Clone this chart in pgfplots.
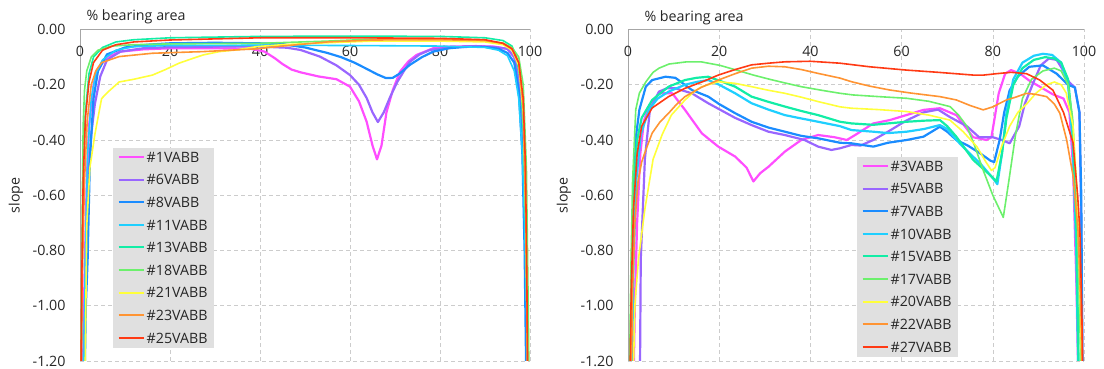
\documentclass[border=0pt]{standalone}
\usepackage{fontspec}
\setmainfont{Open Sans}
\usepackage{pgfplots}
\pgfplotsset{compat=1.18}
\definecolor{cMag}{HTML}{FF4DFF}
\definecolor{cPur}{HTML}{9966FF}
\definecolor{cBlu}{HTML}{1A8CFF}
\definecolor{cCya}{HTML}{1FCFFF}
\definecolor{cSpr}{HTML}{12EDA6}
\definecolor{cLgr}{HTML}{6CF06C}
\definecolor{cYel}{HTML}{FFFF3A}
\definecolor{cOra}{HTML}{FF9433}
\definecolor{cRed}{HTML}{FF3A14}
\pgfplotsset{
  myax/.style={
    scale only axis, height=331.5bp,
    xmin=0, xmax=100, ymin=-1.2, ymax=0,
    axis x line*=top, axis y line*=left,
    axis line style={draw=black!35, -},
    xtick={0,20,40,60,80,100},
    ytick={-1.2,-1,-0.8,-0.6,-0.4,-0.2,0},
    yticklabels={-1.20,-1.00,-0.80,-0.60,-0.40,-0.20,0.00},
    xticklabels={0,20,40,60,80,100},
    major tick length=0pt,
    grid=major, grid style={black!20, dash pattern=on 4bp off 3bp, line width=0.6bp},
    xticklabel style={anchor=center, yshift=-22bp},
    yticklabel style={anchor=east, xshift=-11bp},
    tick label style={font=\fontsize{14.3}{16}\selectfont, text=black!85},
    clip mode=individual,
    every axis plot/.append style={line width=1.6bp, line join=round, no markers},
    legend cell align=left,
    legend image code/.code={\draw[##1, line width=2bp, line cap=butt] (0bp,0.5bp) -- (25bp,0.5bp);},
    legend style={font=\fontsize{14.3}{16}\selectfont, text=black!85, fill=gray!24, draw=none,
      anchor=north west, inner xsep=4.5bp, inner ysep=3.5bp, row sep=11.1bp,
      nodes={inner ysep=0bp, inner xsep=2bp, text height=10.5bp, text depth=1bp}},
  }
}
\begin{document}
\begin{tikzpicture}
\path[use as bounding box] (0,0) rectangle (1104bp,369bp);
% ---------------- LEFT ----------------
\begin{axis}[myax, width=450bp, at={(80bp,8bp)}, anchor=south west,
  legend style={at={(0.0733,0.6425)}}]
\addplot[cMag, line width=2.2bp] coordinates {(0.6,-1.3)(1,-0.9)(1.5,-0.55)(2,-0.35)(3,-0.2)(4,-0.14)(6,-0.1)(9,-0.08)(14,-0.072)(20,-0.068)(30,-0.068)(38,-0.07)(41,-0.08)(43.3,-0.104)(45,-0.125)(47,-0.145)(49,-0.155)(53,-0.17)(57,-0.18)(60,-0.207)(62,-0.26)(63.7,-0.334)(65,-0.42)(66,-0.47)(67,-0.42)(68.1,-0.3)(69.5,-0.22)(71.1,-0.153)(73,-0.115)(74.8,-0.092)(78.5,-0.068)(82,-0.062)(88,-0.06)(92,-0.062)(95,-0.07)(96.5,-0.1)(97.7,-0.2)(98.5,-0.4)(99,-0.75)(99.4,-1.3)};
\addlegendentry{\#1VABB}
\addplot[cPur, line width=2.2bp] coordinates {(0.7,-1.3)(1.2,-0.9)(1.8,-0.55)(2.5,-0.38)(3.3,-0.27)(4.5,-0.17)(6,-0.11)(9,-0.08)(14,-0.068)(20,-0.064)(30,-0.062)(40,-0.062)(46,-0.066)(49,-0.074)(53.3,-0.098)(57,-0.13)(60,-0.165)(62,-0.2)(63.7,-0.248)(65,-0.3)(66.2,-0.335)(67.5,-0.3)(68.9,-0.245)(70.5,-0.19)(72,-0.15)(73.3,-0.117)(75.5,-0.09)(77.8,-0.074)(82,-0.065)(88,-0.062)(92,-0.063)(95,-0.07)(96.5,-0.1)(97.5,-0.18)(98.5,-0.4)(99,-0.7)(99.4,-1.3)};
\addlegendentry{\#6VABB}
\addplot[cBlu, line width=2.2bp] coordinates {(1.0,-1.3)(1.3,-1.0)(1.7,-0.83)(2.2,-0.47)(3,-0.25)(4,-0.15)(6,-0.09)(10,-0.065)(15,-0.055)(20,-0.05)(30,-0.048)(40,-0.05)(45,-0.053)(50,-0.065)(55,-0.085)(58,-0.1)(61,-0.12)(64,-0.145)(66,-0.162)(68,-0.176)(69.5,-0.175)(71,-0.16)(73.3,-0.128)(76,-0.1)(78.5,-0.08)(82,-0.068)(86,-0.062)(90,-0.063)(93,-0.07)(95,-0.085)(96.5,-0.12)(97.5,-0.22)(98.3,-0.45)(98.8,-0.8)(99.2,-1.3)};
\addlegendentry{\#8VABB}
\addplot[cCya] coordinates {(0.8,-1.3)(1.2,-0.8)(1.7,-0.45)(2.5,-0.25)(3.5,-0.16)(5,-0.11)(8,-0.075)(12,-0.062)(20,-0.058)(40,-0.057)(60,-0.058)(80,-0.06)(90,-0.065)(93,-0.075)(95,-0.095)(96.5,-0.15)(97.5,-0.25)(98.3,-0.45)(98.8,-0.7)(99.2,-1.0)(99.5,-1.3)};
\addlegendentry{\#11VABB}
\addplot[cSpr] coordinates {(0.3,-1.3)(0.5,-0.85)(0.8,-0.5)(1.2,-0.3)(2,-0.16)(3,-0.1)(5,-0.065)(8,-0.045)(12,-0.037)(20,-0.03)(40,-0.025)(60,-0.024)(80,-0.025)(90,-0.03)(94,-0.04)(96,-0.06)(97,-0.1)(98,-0.2)(98.6,-0.4)(99,-0.7)(99.3,-1.0)(99.6,-1.3)};
\addlegendentry{\#13VABB}
\addplot[cLgr] coordinates {(0.2,-1.3)(0.4,-0.8)(0.7,-0.35)(1,-0.22)(1.5,-0.15)(2.5,-0.1)(4,-0.075)(7,-0.06)(12,-0.055)(20,-0.052)(40,-0.05)(55,-0.042)(65,-0.035)(80,-0.035)(90,-0.04)(94,-0.05)(96,-0.065)(97.5,-0.1)(98.5,-0.2)(99.2,-0.5)(99.6,-1.0)(99.8,-1.3)};
\addlegendentry{\#18VABB}
\addplot[cYel] coordinates {(1.1,-1.3)(1.5,-0.71)(2.2,-0.5)(3.3,-0.38)(4.8,-0.25)(6.3,-0.225)(8.7,-0.19)(12,-0.18)(16.1,-0.165)(19,-0.145)(22,-0.122)(25,-0.105)(27.4,-0.092)(31,-0.08)(34.8,-0.074)(39.3,-0.062)(45,-0.055)(55,-0.048)(65,-0.042)(80,-0.042)(90,-0.045)(94,-0.055)(96,-0.075)(97.5,-0.13)(98.5,-0.3)(99.1,-0.7)(99.5,-1.3)};
\addlegendentry{\#21VABB}
\addplot[cOra] coordinates {(0.2,-1.3)(0.5,-0.9)(1,-0.55)(1.6,-0.33)(2.5,-0.2)(3.5,-0.15)(4.8,-0.12)(8.7,-0.098)(16.1,-0.086)(27.4,-0.08)(39.3,-0.07)(45,-0.06)(55,-0.045)(65,-0.038)(80,-0.037)(90,-0.04)(94,-0.05)(96,-0.07)(97.5,-0.12)(98.5,-0.28)(99.1,-0.7)(99.5,-1.3)};
\addlegendentry{\#23VABB}
\addplot[cRed] coordinates {(0.2,-1.3)(0.4,-0.9)(0.7,-0.55)(1.2,-0.32)(2,-0.19)(3,-0.12)(5,-0.075)(8,-0.055)(12,-0.045)(20,-0.038)(40,-0.03)(60,-0.03)(80,-0.032)(90,-0.037)(94,-0.05)(96,-0.07)(97.5,-0.12)(98.5,-0.25)(99,-0.5)(99.3,-0.9)(99.5,-1.3)};
\addlegendentry{\#25VABB}
\node[anchor=base west, font=\fontsize{14.3}{16}\selectfont, text=black!85, xshift=3bp, yshift=8.5bp] at (rel axis cs:0,1) {\% bearing area};
\node[font=\fontsize{14.3}{16}\selectfont, text=black!85, xshift=-64bp, rotate=90] at (rel axis cs:0,0.5) {slope};
\end{axis}
% ---------------- RIGHT ----------------
\begin{axis}[myax, width=456bp, at={(628bp,8bp)}, anchor=south west,
  legend style={at={(0.502,0.615)}}]
\addplot[cMag, line width=2.2bp] coordinates {(1.2,-1.3)(1.5,-1.0)(2,-0.7)(2.7,-0.45)(3.5,-0.33)(4.6,-0.279)(6.8,-0.231)(9.7,-0.231)(12.5,-0.291)(16.2,-0.376)(19.8,-0.424)(23.5,-0.46)(26,-0.5)(27.5,-0.55)(29,-0.52)(30.8,-0.497)(34.4,-0.442)(38,-0.4)(41.7,-0.382)(45.3,-0.39)(48,-0.4)(50,-0.38)(53.8,-0.34)(57.4,-0.328)(61,-0.31)(64.8,-0.291)(68.4,-0.285)(72,-0.31)(75.7,-0.39)(78.6,-0.4)(79.7,-0.39)(81.3,-0.231)(82.7,-0.16)(84,-0.147)(86,-0.16)(88,-0.185)(90.3,-0.207)(93.2,-0.235)(95.5,-0.25)(96.8,-0.3)(97.6,-0.5)(98.3,-0.9)(98.8,-1.3)};
\addlegendentry{\#3VABB}
\addplot[cPur, line width=2.2bp] coordinates {(2.6,-1.3)(2.8,-0.83)(3.7,-0.47)(4.8,-0.29)(6.8,-0.225)(8.5,-0.213)(10.4,-0.213)(14,-0.231)(17.6,-0.267)(23.5,-0.32)(27.1,-0.346)(30.8,-0.37)(34.4,-0.382)(38.7,-0.4)(41.7,-0.424)(44.6,-0.436)(46.5,-0.43)(49,-0.418)(51,-0.42)(53.8,-0.4)(57,-0.37)(61,-0.33)(64.8,-0.3)(68,-0.29)(70.6,-0.317)(74.3,-0.35)(77,-0.39)(80,-0.39)(82,-0.4)(83.7,-0.412)(85.8,-0.35)(87,-0.27)(88.7,-0.2)(90.5,-0.13)(92.3,-0.105)(94,-0.11)(95.5,-0.15)(96.7,-0.19)(98,-0.21)(99,-0.3)(99.4,-0.7)(99.7,-1.3)};
\addlegendentry{\#5VABB}
\addplot[cBlu, line width=2.2bp] coordinates {(0.5,-1.3)(0.8,-0.9)(1.3,-0.55)(1.8,-0.38)(2.5,-0.29)(3.9,-0.207)(5.3,-0.183)(8.2,-0.171)(10.4,-0.175)(14,-0.219)(17.6,-0.243)(20,-0.27)(23.5,-0.303)(27.1,-0.334)(30.8,-0.355)(34.4,-0.37)(38,-0.385)(41.7,-0.394)(46.5,-0.41)(49,-0.412)(53.8,-0.424)(57,-0.41)(61.1,-0.4)(64.8,-0.388)(68.4,-0.352)(70,-0.37)(72,-0.4)(74.5,-0.42)(77.2,-0.448)(79.5,-0.475)(80.3,-0.48)(81.5,-0.4)(82.5,-0.3)(83.7,-0.22)(85.5,-0.17)(88,-0.135)(91,-0.13)(94,-0.16)(96.5,-0.2)(98,-0.21)(99,-0.3)(99.4,-0.6)(99.7,-1.3)};
\addlegendentry{\#7VABB}
\addplot[cCya, line width=2.2bp] coordinates {(0.8,-1.3)(1.2,-0.85)(1.8,-0.55)(2.8,-0.38)(4.6,-0.29)(6.5,-0.25)(8.9,-0.225)(12.5,-0.2)(15,-0.19)(17.6,-0.183)(20,-0.2)(23.5,-0.231)(27.1,-0.267)(30.8,-0.29)(34.4,-0.31)(38,-0.322)(41.7,-0.334)(46.5,-0.35)(49,-0.364)(53.8,-0.37)(57,-0.375)(61.1,-0.37)(65,-0.36)(68.4,-0.346)(70,-0.36)(72,-0.4)(75,-0.45)(77.2,-0.484)(80.1,-0.54)(81,-0.56)(82,-0.45)(83,-0.3)(84.5,-0.18)(86.5,-0.12)(89,-0.095)(91,-0.088)(93,-0.092)(95,-0.12)(96.5,-0.2)(97.5,-0.4)(98.3,-0.8)(98.8,-1.3)};
\addlegendentry{\#10VABB}
\addplot[cSpr, line width=2.2bp] coordinates {(0.5,-1.3)(0.8,-0.85)(1.3,-0.55)(2,-0.4)(3,-0.32)(5.3,-0.255)(8.9,-0.207)(12.5,-0.183)(15,-0.175)(17.6,-0.171)(20,-0.185)(23.5,-0.207)(27.1,-0.243)(30.8,-0.262)(34.4,-0.279)(38,-0.295)(41.7,-0.31)(46.5,-0.334)(49,-0.34)(53.8,-0.345)(57,-0.34)(61.1,-0.334)(65,-0.33)(68.4,-0.328)(70,-0.35)(72,-0.388)(75.7,-0.472)(79.4,-0.527)(80.8,-0.55)(82,-0.45)(83,-0.32)(84.5,-0.2)(86.5,-0.14)(89,-0.11)(91.5,-0.1)(93.5,-0.105)(95,-0.12)(96.5,-0.18)(97.5,-0.35)(98.3,-0.7)(98.9,-1.3)};
\addlegendentry{\#15VABB}
\addplot[cLgr] coordinates {(0.3,-1.3)(0.6,-0.9)(1,-0.55)(1.7,-0.29)(2.5,-0.23)(3.9,-0.19)(5.5,-0.155)(6.8,-0.14)(9,-0.125)(12.9,-0.117)(16,-0.117)(20.2,-0.13)(24,-0.148)(27.5,-0.165)(31,-0.18)(34.8,-0.195)(38,-0.207)(42.1,-0.219)(46.5,-0.231)(49.4,-0.237)(55,-0.243)(61.1,-0.249)(66,-0.26)(70.6,-0.279)(72.5,-0.31)(74.3,-0.35)(76,-0.42)(77.9,-0.51)(80,-0.6)(82.3,-0.68)(83.5,-0.55)(85,-0.38)(86.5,-0.25)(88.5,-0.18)(91,-0.15)(93.5,-0.14)(95,-0.15)(96.5,-0.2)(97.5,-0.32)(98.4,-0.6)(99,-1.0)(99.4,-1.3)};
\addlegendentry{\#17VABB}
\addplot[cYel] coordinates {(1.1,-1.3)(1.5,-1.0)(2.3,-0.83)(3.7,-0.65)(5.5,-0.47)(7.5,-0.38)(9.5,-0.31)(12.5,-0.255)(14.5,-0.225)(16.2,-0.207)(19.8,-0.189)(23.5,-0.195)(27.1,-0.207)(30.8,-0.22)(34.4,-0.231)(38,-0.245)(41.7,-0.261)(46.5,-0.28)(49,-0.285)(55,-0.29)(61.1,-0.297)(66,-0.31)(70.6,-0.328)(73.5,-0.37)(76.5,-0.424)(78.5,-0.48)(79.7,-0.51)(80.5,-0.5)(82,-0.42)(83.7,-0.35)(85.5,-0.3)(87.4,-0.27)(89.5,-0.23)(91.8,-0.2)(93.5,-0.19)(95,-0.2)(96.1,-0.23)(97.6,-0.35)(98.5,-0.6)(99.2,-1.0)(99.6,-1.3)};
\addlegendentry{\#20VABB}
\addplot[cOra] coordinates {(0.7,-1.3)(1,-0.95)(1.5,-0.7)(2.2,-0.55)(3,-0.48)(3.9,-0.436)(5.3,-0.375)(7,-0.335)(8.9,-0.303)(10.7,-0.27)(12.5,-0.243)(16,-0.21)(19.8,-0.183)(23.5,-0.16)(27.1,-0.14)(30.8,-0.133)(34.4,-0.135)(38,-0.145)(41.7,-0.159)(46.5,-0.176)(49,-0.189)(53,-0.205)(57.4,-0.219)(62,-0.23)(68.4,-0.243)(72,-0.255)(75,-0.275)(77.9,-0.291)(80,-0.28)(83,-0.255)(85,-0.245)(87.4,-0.231)(89.5,-0.235)(91.8,-0.243)(93.5,-0.27)(94.7,-0.303)(96.2,-0.4)(97.6,-0.53)(98.7,-0.73)(99.3,-1.0)(99.7,-1.3)};
\addlegendentry{\#22VABB}
\addplot[cRed] coordinates {(0.4,-1.3)(0.7,-0.95)(1.2,-0.65)(2,-0.45)(3,-0.35)(5.3,-0.284)(8.9,-0.243)(12.5,-0.213)(16.2,-0.19)(19.8,-0.165)(23.5,-0.145)(27.1,-0.128)(30.8,-0.122)(34.4,-0.117)(40,-0.115)(46.5,-0.122)(53,-0.135)(61.1,-0.147)(68,-0.155)(75.7,-0.165)(78,-0.165)(80.8,-0.16)(84,-0.155)(87.4,-0.16)(90.3,-0.183)(93.2,-0.22)(95.5,-0.3)(97.6,-0.41)(98.6,-0.6)(99.1,-0.73)(99.5,-1.0)(99.8,-1.3)};
\addlegendentry{\#27VABB}
\node[anchor=base west, font=\fontsize{14.3}{16}\selectfont, text=black!85, xshift=13bp, yshift=7.5bp] at (rel axis cs:0,1) {\% bearing area};
\node[font=\fontsize{14.3}{16}\selectfont, text=black!85, xshift=-64bp, rotate=90] at (rel axis cs:0,0.5) {slope};
\end{axis}
\end{tikzpicture}
\end{document}
